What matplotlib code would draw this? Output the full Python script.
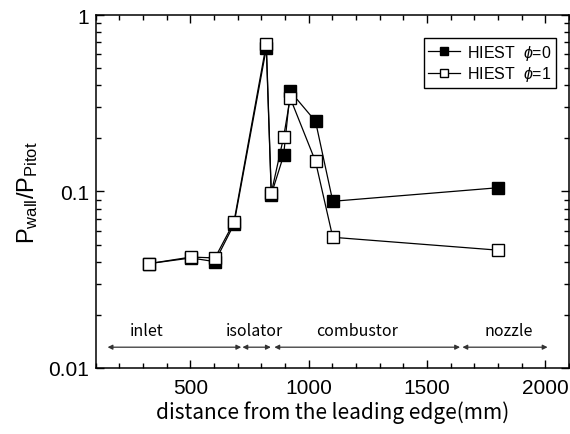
import matplotlib
matplotlib.use("Agg")
import matplotlib.pyplot as plt
from matplotlib.ticker import FixedLocator, LogLocator, FuncFormatter, NullFormatter

plt.rcParams["font.family"] = ["Liberation Sans", "DejaVu Sans"]
plt.rcParams["mathtext.fontset"] = "custom"
plt.rcParams["mathtext.rm"] = "Liberation Sans"
plt.rcParams["mathtext.it"] = "Liberation Sans:italic"

GOTHIC = ["Noto Sans CJK JP", "DejaVu Sans"]

# measured positions (mm) and wall / pitot pressure ratios
x_mm = [325, 503, 604, 684, 821, 842, 894, 922, 1029, 1102, 1800]
p_phi0 = [0.039, 0.042, 0.040, 0.065, 0.65, 0.096, 0.16, 0.37, 0.25, 0.088, 0.105]
p_phi1 = [0.039, 0.0425, 0.042, 0.067, 0.685, 0.098, 0.203, 0.339, 0.148, 0.055, 0.0465]

# engine sections: name, start, end, label position
sections = ["inlet", "isolator", "combustor", "nozzle"]
sec_start = [150, 720, 855, 1650]
sec_end = [715, 840, 1640, 2010]
sec_label_x = [315, 772, 1206, 1846]

fig = plt.figure(figsize=(5.7, 4.35), dpi=100)
ax = fig.add_axes([0.168, 0.152, 0.830, 0.811])

ax.plot(x_mm, p_phi0, "-s", color="black", lw=0.9, ms=8,
        mfc="black", mec="black", mew=1.0, label=r"HIEST  $\phi$=0", zorder=3)
ax.plot(x_mm, p_phi1, "-s", color="black", lw=0.9, ms=8,
        mfc="white", mec="black", mew=1.0, label=r"HIEST  $\phi$=1", zorder=4)

ax.set_yscale("log")
ax.set_xlim(100, 2100)
ax.set_ylim(0.01, 1)

ax.xaxis.set_major_locator(FixedLocator([500, 1000, 1500, 2000]))
ax.xaxis.set_minor_locator(FixedLocator(range(100, 2101, 100)))
ax.yaxis.set_major_locator(LogLocator(base=10))
ax.yaxis.set_minor_locator(LogLocator(base=10, subs=range(2, 10)))
ax.yaxis.set_major_formatter(FuncFormatter(lambda v, _: f"{v:g}"))
ax.yaxis.set_minor_formatter(NullFormatter())

ax.tick_params(which="both", direction="in", top=True, right=True,
               labelsize=15, pad=5, width=1.0)
ax.tick_params(axis="x", which="both", pad=7)
ax.tick_params(which="major", length=6)
ax.tick_params(which="minor", length=3.5)
for s in ax.spines.values():
    s.set_linewidth(1.1)

# section arrows and labels
y_arrow = 0.0131
y_label = 0.0162
for name, x0, x1, xl in zip(sections, sec_start, sec_end, sec_label_x):
    ax.annotate("", xy=(x1, y_arrow), xytext=(x0, y_arrow),
                arrowprops=dict(arrowstyle="<|-|>", color="#333333", lw=0.9,
                                mutation_scale=7, shrinkA=0, shrinkB=0))
    ax.text(xl, y_label, name, ha="center", va="center", fontsize=11.5,
            family=GOTHIC)

ax.set_xlabel("distance from the leading edge(mm)", fontsize=15,
              family=GOTHIC, labelpad=3)
ax.set_ylabel(r"$\mathregular{P_{wall}/P_{Pitot}}$", fontsize=17, labelpad=6)

leg = ax.legend(loc="upper right", bbox_to_anchor=(0.973, 0.935),
                borderaxespad=0, fontsize=11.5, handlelength=2.0,
                handletextpad=0.4, fancybox=False, framealpha=1,
                edgecolor="black", borderpad=0.3, labelspacing=0.15,
                markerscale=0.75)
leg.get_frame().set_linewidth(1.0)

fig.savefig("out.png", dpi=100, facecolor="white")
